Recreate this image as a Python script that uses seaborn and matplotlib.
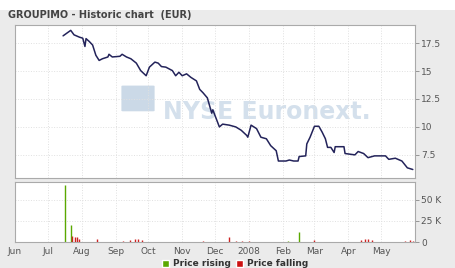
import pandas as pd
import matplotlib
matplotlib.use('Agg')
import matplotlib.pyplot as plt
from matplotlib.patches import Patch, Rectangle, FancyBboxPatch
import seaborn as sns

# Price series
price_dates = ['2007-07-15', '2007-07-22', '2007-07-25', '2007-07-30', '2007-08-02', '2007-08-04',
               '2007-08-05', '2007-08-08', '2007-08-11', '2007-08-14', '2007-08-17', '2007-08-20',
               '2007-08-25', '2007-08-26', '2007-08-29', '2007-09-05', '2007-09-07', '2007-09-11',
               '2007-09-15', '2007-09-20', '2007-09-24', '2007-09-29', '2007-10-02', '2007-10-07',
               '2007-10-10', '2007-10-13', '2007-10-17', '2007-10-23', '2007-10-26', '2007-10-29',
               '2007-11-01', '2007-11-05', '2007-11-09', '2007-11-14', '2007-11-17', '2007-11-20',
               '2007-11-24', '2007-11-28', '2007-11-29', '2007-12-02', '2007-12-05', '2007-12-08',
               '2007-12-14', '2007-12-20', '2007-12-25', '2007-12-30', '2007-12-31', '2008-01-03',
               '2008-01-08', '2008-01-12', '2008-01-17', '2008-01-21', '2008-01-26', '2008-01-28',
               '2008-02-04', '2008-02-07', '2008-02-11', '2008-02-15', '2008-02-16', '2008-02-22',
               '2008-02-23', '2008-02-26', '2008-03-01', '2008-03-05', '2008-03-08', '2008-03-11',
               '2008-03-13', '2008-03-16', '2008-03-19', '2008-03-20', '2008-03-28', '2008-03-29',
               '2008-04-07', '2008-04-10', '2008-04-15', '2008-04-19', '2008-04-25', '2008-05-05',
               '2008-05-08', '2008-05-14', '2008-05-20', '2008-05-25', '2008-05-30']
price_values = [18.15, 18.64, 18.24, 18.03, 17.94, 17.2,
                17.9, 17.64, 17.33, 16.41, 15.95, 16.1,
                16.26, 16.5, 16.26, 16.32, 16.5, 16.26,
                16.1, 15.71, 15.04, 14.58, 15.35, 15.8,
                15.71, 15.4, 15.35, 15.04, 14.58, 14.89,
                14.58, 14.75, 14.43, 14.12, 13.36, 13.06,
                12.6, 11.23, 11.53, 10.77, 10.0, 10.25,
                10.16, 10.0, 9.7, 9.24, 9.08, 10.16,
                9.85, 9.08, 8.94, 8.32, 7.87, 6.95,
                6.95, 7.04, 6.95, 6.95, 7.35, 7.41,
                8.48, 9.08, 10.06, 10.06, 9.54, 8.94,
                8.17, 8.17, 7.71, 8.23, 8.23, 7.62,
                7.5, 7.8, 7.62, 7.25, 7.41, 7.41,
                7.1, 7.2, 6.95, 6.34, 6.19]

# Volume bars (rising / falling)
vol_dates = ['2007-07-17', '2007-07-22', '2007-07-23', '2007-07-26', '2007-07-28', '2007-07-30',
             '2007-08-15', '2007-09-08', '2007-09-14', '2007-09-19', '2007-09-22', '2007-09-25',
             '2007-11-20', '2007-12-14', '2007-12-20', '2007-12-26', '2008-01-01', '2008-02-06',
             '2008-02-16', '2008-03-01', '2008-04-13', '2008-04-16', '2008-04-19', '2008-04-23',
             '2008-05-23', '2008-05-27', '2008-05-30']
vol_values = [68000, 20000, 7000, 6000, 5500, 4000,
              3500, 1500, 2500, 4000, 3000, 2500,
              1000, 5600, 1500, 1200, 800, 1000,
              12000, 1800, 2500, 3500, 4000, 2000,
              1500, 2000, 1200]
vol_dir = ['up', 'up', 'down', 'down', 'down', 'down',
           'down', 'down', 'down', 'down', 'down', 'down',
           'down', 'down', 'down', 'down', 'down', 'up',
           'up', 'down', 'down', 'down', 'down', 'down',
           'down', 'down', 'down']

month_ticks = ['2007-06-01', '2007-07-01', '2007-08-01', '2007-09-01', '2007-10-01', '2007-11-01',
               '2007-12-01', '2008-01-01', '2008-02-01', '2008-03-01', '2008-04-01', '2008-05-01']
month_labels = ['Jun', 'Jul', 'Aug', 'Sep', 'Oct', 'Nov', 'Dec', '2008', 'Feb', 'Mar', 'Apr', 'May']
price_ticks = [7.5, 10, 12.5, 15, 17.5]
price_labels = ['7.5', '10', '12.5', '15', '17.5']
vol_ticks = [0, 25000, 50000]
vol_labels = ['0', '25 K', '50 K']

df_price = pd.DataFrame({'date': pd.to_datetime(price_dates), 'price': price_values})
df_vol = pd.DataFrame({'date': pd.to_datetime(vol_dates), 'volume': vol_values, 'dir': vol_dir})

sns.set_style('white')
plt.rcParams['font.family'] = ['DejaVu Sans']

W, H = 455, 268
fig = plt.figure(figsize=(W / 100, H / 100), dpi=100, facecolor='#ebebeb')
fig.patches.append(Rectangle((0, 1 - 10 / H), 1, 10 / H, transform=fig.transFigure,
                             facecolor='white', edgecolor='none'))

ax1 = fig.add_axes([15 / W, (H - 178) / H, 400 / W, 153 / H])
ax2 = fig.add_axes([15 / W, (H - 242) / H, 400 / W, 60 / H], sharex=ax1)

xmin, xmax = pd.Timestamp('2007-06-01'), pd.Timestamp('2008-06-01')

# watermark
ax1.text(0.63, 0.43, 'NYSE Euronext.', transform=ax1.transAxes, ha='center', va='center',
         fontsize=17, fontweight='bold', color='#d4e0ec', zorder=0)
ax1.add_patch(FancyBboxPatch((0.27, 0.44), 0.075, 0.16, boxstyle='round,pad=0.004',
                             transform=ax1.transAxes, facecolor='#cbd9e7', edgecolor='none',
                             zorder=0))

sns.lineplot(data=df_price, x='date', y='price', ax=ax1, color='#23235a', linewidth=1.1, zorder=3)

colors = {'up': '#5aa800', 'down': '#cc2222'}
for d in ['up', 'down']:
    sub = df_vol[df_vol['dir'] == d]
    ax2.vlines(sub['date'], 0, sub['volume'], color=colors[d], linewidth=1.0, zorder=3)

for ax in (ax1, ax2):
    ax.set_facecolor('white')
    ax.set_xlim(xmin, xmax)
    ax.set_xlabel('')
    ax.set_ylabel('')
    for s in ax.spines.values():
        s.set_color('#aaaaaa')
        s.set_linewidth(0.8)
    ax.yaxis.tick_right()
    ax.tick_params(axis='y', direction='out', length=3, width=0.6, color='#888888',
                   labelsize=6.5, labelcolor='#555555', pad=1.5)
    ax.set_xticks(pd.to_datetime(month_ticks))
    ax.grid(True, color='#e0e0e0', linestyle=':', linewidth=0.7)

ax1.set_ylim(5.43, 19.12)
ax1.set_yticks(price_ticks)
ax1.set_yticklabels(price_labels)
ax1.tick_params(axis='x', length=0, labelbottom=False)

ax2.set_ylim(0, 71000)
ax2.set_yticks(vol_ticks)
ax2.set_yticklabels(vol_labels)
ax2.set_xticklabels(month_labels)
ax2.tick_params(axis='x', direction='out', length=2, width=0.6, color='#888888',
                labelsize=6.5, labelcolor='#555555', pad=1.5)

fig.text(8 / W, 1 - 15 / H, 'GROUPIMO - Historic chart  (EUR)', fontsize=7,
         fontweight='bold', color='#444444', va='center', ha='left')

handles = [Patch(facecolor='#5aa800', label='Price rising'),
           Patch(facecolor='#cc1111', label='Price falling')]
fig.legend(handles=handles, loc='center', bbox_to_anchor=(235 / W, 1 - 264 / H), ncol=2,
           frameon=False, prop={'size': 6.5, 'weight': 'bold'}, handlelength=0.8,
           handleheight=0.8, handletextpad=0.4, columnspacing=0.6, borderpad=0,
           labelcolor='#333333')

fig.savefig('out.png', dpi=100, facecolor=fig.get_facecolor())
